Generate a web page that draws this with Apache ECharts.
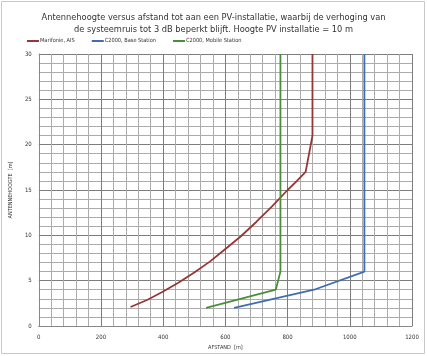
<!DOCTYPE html>
<html><head><meta charset="utf-8">
<script src="https://cdn.jsdelivr.net/npm/echarts@6/dist/echarts.min.js"></script>
<style>html,body{margin:0;padding:0;background:#fff}#c{width:427px;height:356px}</style>
</head><body><div id="c"></div>
<script>
const seriesNames = ["Marifonie, AIS", "C2000, Base Station", "C2000, Mobile Station"];
const marifonie = [[295,2.1],[350,2.9],[400,3.8],[450,4.8],[500,5.9],[550,7.1],[600,8.5],[650,9.9],[700,11.5],[750,13.2],[800,15.0],[830,16.0],[858,17],[880,21],[880,30]];
const baseStation = [[628,2],[885,4],[1047,6],[1047,30]];
const mobileStation = [[538,2],[762,4],[777,6],[777,30]];
const xTicks = [0,200,400,600,800,1000,1200];
const yTicks = [0,5,10,15,20,25,30];
const colors = ["#953735", "#3F6DB0", "#4A8E3A"];

const font = "'Liberation Sans Narrow','DejaVu Sans Condensed','Liberation Sans',sans-serif";
const chart = echarts.init(document.getElementById('c'));
chart.setOption({
  animation: false,
  textStyle: {fontFamily: font},
  graphic: [{type:'rect', shape:{x:1.5,y:1.5,width:423,height:352}, style:{fill:null, stroke:'#c8c8c8', lineWidth:1}, silent:true}],
  title: {
    text: "Antennehoogte versus afstand tot aan een PV-installatie, waarbij de verhoging van\nde systeemruis tot 3 dB beperkt blijft. Hoogte PV installatie = 10 m",
    left: 'center', top: 6,
    textStyle: {fontSize: 9.2, fontWeight: 'normal', color: '#333', lineHeight: 12.5, fontFamily: font}
  },
  legend: {
    left: 27, top: 38, padding: 0, itemWidth: 12, itemHeight: 2, itemGap: 17, icon: 'rect',
    textStyle: {fontSize: 5.6, color: '#333', padding:[0,0,0,-4]},
    data: seriesNames
  },
  grid: {left: 31, right: 15, top: 54, bottom: 30},
  xAxis: {
    type: 'value', min: 0, max: 1200, interval: 200,
    name: 'AFSTAND  [m]', nameLocation: 'middle', nameGap: 16,
    nameTextStyle: {fontSize: 5.5, color: '#333'},
    axisLine: {show: true, lineStyle: {color: '#888'}},
    axisTick: {show: false},
    axisLabel: {fontSize: 6, color: '#333', margin: 8, customValues: xTicks, formatter: v => String(v)},
    splitLine: {show: true, lineStyle: {color: '#7d7d7d', width: 1}},
    minorTick: {show: false, splitNumber: 5},
    minorSplitLine: {show: true, lineStyle: {color: '#ababab', width: 1}}
  },
  yAxis: {
    type: 'value', min: 0, max: 30, interval: 5,
    name: 'ANTENNEHOOGTE  [m]', nameLocation: 'middle', nameGap: 15,
    nameTextStyle: {fontSize: 5.5, color: '#333'},
    axisLine: {show: true, lineStyle: {color: '#888'}},
    axisTick: {show: false},
    axisLabel: {fontSize: 6, color: '#333', margin: 7, customValues: yTicks, formatter: v => String(v)},
    splitLine: {show: true, lineStyle: {color: '#7d7d7d', width: 1}},
    minorTick: {show: false, splitNumber: 5},
    minorSplitLine: {show: true, lineStyle: {color: '#ababab', width: 1}}
  },
  series: [
    {name: seriesNames[0], type: 'line', data: marifonie, smooth: false, showSymbol: false, lineStyle: {width: 1.8, color: colors[0]}, itemStyle: {color: colors[0]}},
    {name: seriesNames[1], type: 'line', data: baseStation, smooth: false, showSymbol: false, lineStyle: {width: 1.8, color: colors[1]}, itemStyle: {color: colors[1]}},
    {name: seriesNames[2], type: 'line', data: mobileStation, smooth: false, showSymbol: false, lineStyle: {width: 1.8, color: colors[2]}, itemStyle: {color: colors[2]}}
  ]
});
</script></body></html>
